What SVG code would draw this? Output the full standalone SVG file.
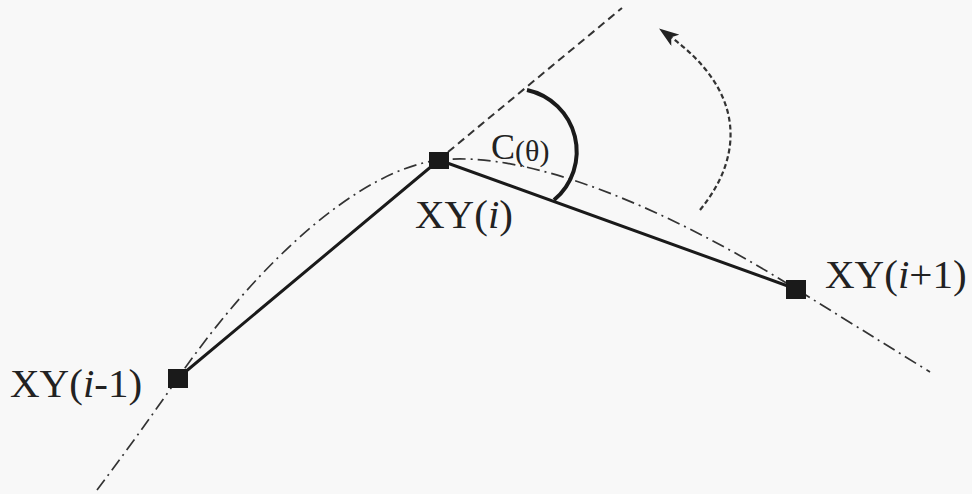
<svg xmlns="http://www.w3.org/2000/svg" width="972" height="494" viewBox="0 0 972 494">
<defs>
<style>
.bg{fill:#f8f8f8}
.solid{stroke:#1a1a1a;stroke-width:3;fill:none;stroke-linecap:round}
.dashdot{stroke:#333;stroke-width:1.7;fill:none;stroke-dasharray:13 5 2 5}
.dash{stroke:#333;stroke-width:2;fill:none;stroke-dasharray:8 5}
.rot{stroke:#333;stroke-width:2.2;fill:none;stroke-dasharray:5 3}
.angle{stroke:#1a1a1a;stroke-width:4;fill:none}
.node{fill:#1a1a1a}
.lbl{font-family:"Liberation Serif","Times New Roman",serif;fill:#222;font-size:41px}
.big{font-size:36px}
.small{font-size:30px}
</style>
<marker id="ah" markerUnits="userSpaceOnUse" viewBox="0 0 20 14" refX="9" refY="7" markerWidth="20" markerHeight="14" orient="auto">
<path d="M0,0 L20,7 L0,14 L5,7 z" fill="#222"/>
</marker>
</defs>
<rect class="bg" x="0" y="0" width="972" height="494"/>
<g id="connectors">
<path class="dashdot" d="M97,490 Q137,437 178,378 C260,260 360,170 439,160 C530,150 670,210 796,289 Q859,328 930,372"/>
<path class="dash" d="M448,152 L622,8"/>
<path class="solid" d="M178,378 L439,160 L796,289"/>
<path class="angle" d="M527,90 A63,63 0 0,1 554,200"/>
<path class="rot" d="M700,210 C745,155 745,90 668,35" marker-end="url(#ah)"/>
</g>
<g id="node-i-1">
<rect class="node" x="168" y="369" width="20" height="19"/>
<text class="lbl" x="10" y="397">XY(<tspan font-style="italic">i</tspan>-1)</text>
</g>
<g id="node-i">
<rect class="node" x="429" y="152" width="20" height="17"/>
<text class="lbl" x="415" y="228">XY(<tspan font-style="italic">i</tspan>)</text>
</g>
<g id="node-i+1">
<rect class="node" x="786" y="280" width="20" height="19"/>
<text class="lbl" x="825" y="288">XY(<tspan font-style="italic">i</tspan>+1)</text>
</g>
<g id="angle-label">
<text class="lbl big" x="491" y="159">C<tspan class="small" dy="2">(θ)</tspan></text>
</g>
</svg>
